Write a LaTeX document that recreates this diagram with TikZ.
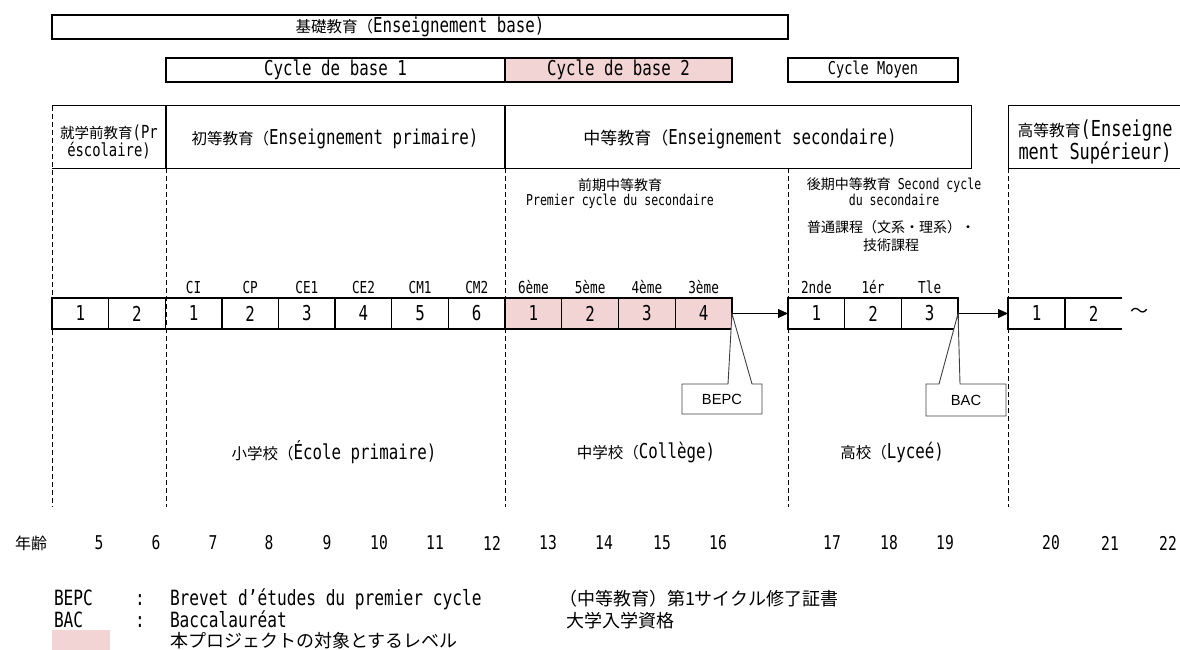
\documentclass[tikz,border=0pt]{standalone}
\usepackage{fontspec}
\setmainfont{DejaVu Sans Mono}[FakeStretch=0.77]
\newfontfamily\lat{DejaVu Sans Mono}[FakeStretch=0.77]
\newfontfamily\jpf{Noto Sans CJK JP}
\newfontfamily\arl{Liberation Sans}
\usetikzlibrary{arrows.meta,calc}
\definecolor{pinkfill}{HTML}{F2D4D4}
\definecolor{callgray}{HTML}{404040}
\newcommand\fs[1]{\fontsize{#1}{#1}\selectfont}
\newcommand\J[2][15.5]{{\jpf\fontsize{#1}{#1}\selectfont #2}}
\begin{document}
\begin{tikzpicture}[x=1pt,y=-1pt,
  every node/.style={inner sep=0pt,outer sep=0pt},
  bar/.style={draw,line width=1.3pt,minimum height=24pt,font=\lat\fs{20.5}},
  cell/.style={draw,line width=1.3pt,minimum width=56.7pt,minimum height=31pt,anchor=west,font=\lat\fs{20.5}},
  opencell/.style={minimum width=57pt,minimum height=31pt,anchor=west,font=\lat\fs{20.5}},
  glab/.style={anchor=base,font=\lat\fs{16.5}},
  head/.style={anchor=base,font=\lat\fs{20.5}},
  small/.style={font=\lat\fs{15}},
  mid/.style={font=\lat\fs{20.5}},
  age/.style={font=\lat\fs{19}},
  legend/.style={anchor=base west,font=\lat\fs{21}},
  dsh/.style={line width=1pt,dash pattern=on 5pt off 3pt},
  hline/.style={line width=1pt},
  hdiv/.style={line width=2pt},
  arr/.style={line width=1pt,-{Triangle[length=10pt,width=9pt]}},
  call/.style={draw=callgray,line width=0.9pt,fill=white},
  calltext/.style={minimum width=80pt,font=\arl\fs{14.7}}
]
\useasboundingbox (0,0) rectangle (1180,650);

% ---- top bars
\node[bar,minimum width=736pt] (base) at (420,27) {\J{基礎教育（}Enseignement base)};
\node[bar,minimum width=339pt] (cb1) at (335.5,70) {Cycle de base 1};
\node[bar,minimum width=227pt,fill=pinkfill] (cb2) at (618.5,70) {Cycle de base 2};
\node[bar,minimum width=170pt,font=\lat\fs{17.7}] (cm) at (873,70) {Cycle Moyen};

% ---- dashed separators
\draw[dsh] (52,106) -- (52,507);
\foreach \x in {166,505,788,1008} \draw[dsh] (\x,168) -- (\x,507);

% ---- header row
\draw[hline] (52,106) -- (971,106) -- (971,168) -- (52,168);
\draw[hdiv] (166,106) -- (166,168);
\draw[hdiv] (505,106) -- (505,168);
\draw[hline] (1181,106) -- (1008,106) -- (1008,168) -- (1181,168);

\node[align=center,font=\lat\fontsize{18}{14}\selectfont] (hpre) at (109,142) {\J[14.5]{就学前教育}(Pr\\éscolaire)};
\node[head] (hpri) at (335,144) {\J{初等教育（}Enseignement primaire)};
\node[head] (hsec) at (740,144) {\J[17]{中等教育（}Enseignement secondaire)};
\node[align=center,font=\lat\fontsize{22}{18}\selectfont] (hsup) at (1095,142) {\J[15.8]{高等教育}(Enseigne\\ment Supérieur)};

% ---- middle annotations
\node[small] (a1) at (620,185) {\J[14]{前期中等教育}};
\node[small] (a2) at (620,201) {Premier cycle du secondaire};
\node[small] (b1) at (894,185) {\J[14]{後期中等教育} Second cycle};
\node[small] (b2) at (894,200) {du secondaire};
\node[small] (c1) at (891,227) {\J[14]{普通課程（文系・理系）・}};
\node[small] (c2) at (891,245) {\J[14]{技術課程}};

% ---- grade cells
\node[cell] (p1) at (52,313.5) {1};
\node[cell] (p2) at (108.6,313.5) {2};
\foreach \i in {1,...,6} \node[cell] (e\i) at ({52+(\i+1)*56.625},313.5) {\i};
\foreach \i in {1,...,4} \node[cell,fill=pinkfill] (s\i) at ({505+(\i-1)*56.75},313.5) {\i};
\foreach \i in {1,...,3} \node[cell] (u\i) at ({788+(\i-1)*56.67},313.5) {\i};
\node[cell,minimum width=57pt] (h1) at (1008,313.5) {1};
\node[opencell] (h2) at (1065,313.5) {2};
\draw[line width=1.3pt] (h2.north west) -- (h2.north east);
\draw[line width=1.3pt] (h2.south west) -- (h2.south east);
\node[font=\jpf\fs{18}] (tilde) at (1139,313) {～};

% ---- grade labels
\foreach \t [count=\i] in {CI,CP,CE1,CE2,CM1,CM2} \node[glab] at ($(e\i.north)+(0,-5)$) {\t};
\foreach \t [count=\i] in {6ème,5ème,4ème,3ème} \node[glab] at ($(s\i.north)+(0,-5)$) {\t};
\foreach \t [count=\i] in {2nde,1ér,Tle} \node[glab] at ($(u\i.north)+(0,-5)$) {\t};

% ---- arrows
\draw[arr] (s4.east) -- (u1.west);
\draw[arr] (u3.east) -- (h1.west);

% ---- callouts
\node[calltext,minimum height=30pt] (bepc) at (722,399) {};
\draw[call] ($(bepc.north west)+(46,0)$) -- (s4.east) -- ($(bepc.north west)+(70,0)$)
  -- (bepc.north east) -- (bepc.south east) -- (bepc.south west) -- (bepc.north west) -- cycle;
\node[calltext,minimum height=30pt] at (bepc.center) {BEPC};
\node[calltext,minimum height=32pt] (bac) at (966,400) {};
\draw[call] ($(bac.north west)+(13,0)$) -- (u3.east) -- ($(bac.north west)+(34,0)$)
  -- (bac.north east) -- (bac.south east) -- (bac.south west) -- (bac.north west) -- cycle;
\node[calltext,minimum height=32pt] at (bac.center) {BAC};

% ---- school names
\node[mid] (l1) at (334,452) {\J{小学校（}École primaire)};
\node[mid] (l2) at (646,452) {\J{中学校（}Collège)};
\node[mid] (l3) at (892,452) {\J{高校（}Lyceé)};

% ---- ages
\node[font=\jpf\fs{16}] (agelab) at (31,543) {年齢};
\foreach \a/\x in {5/99,6/156,7/213,8/269,9/327,10/379,11/435,12/492,13/548,14/604,15/662,16/718,17/832,18/889,19/945,20/1051,21/1110,22/1168}
  \node[age] at (\x,543) {\a};

% ---- legend
\node[legend] (k1) at (54,605) {BEPC};
\node[legend] (k2) at (135,605) {:};
\node[legend] (k3) at (170,605) {Brevet d’études du premier cycle};
\node[legend] (k4) at (559,605) {\J[18]{（中等教育）第1サイクル修了証書}};
\node[legend] (m1) at (54,627) {BAC};
\node[legend] (m2) at (135,627) {:};
\node[legend] (m3) at (170,627) {Baccalauréat};
\node[legend] (m4) at (566,627) {\J[18]{大学入学資格}};
\fill[pinkfill] (52,630) rectangle (110,652);
\node[legend] (n3) at (170,647) {\J[18]{本プロジェクトの対象とするレベル}};
\end{tikzpicture}
\end{document}
